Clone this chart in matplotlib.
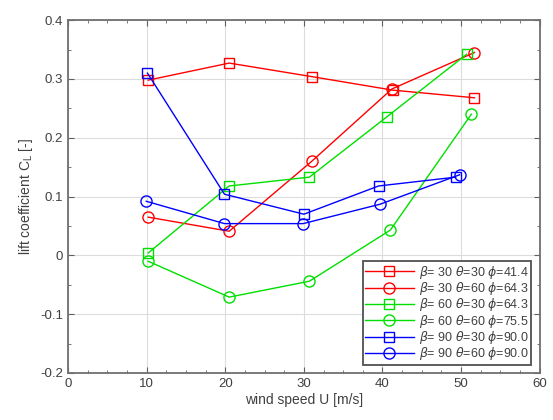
import matplotlib
matplotlib.use("Agg")
import matplotlib.pyplot as plt
from matplotlib.ticker import MultipleLocator, FuncFormatter

plt.rcParams['font.family'] = ['Liberation Sans', 'DejaVu Sans']
plt.rcParams['mathtext.fontset'] = 'dejavusans'
plt.rcParams['axes.unicode_minus'] = False

# wind speed / lift coefficient per configuration
u_b30t30 = [10.2, 20.5, 31.0, 41.3, 51.7]
cl_b30t30 = [0.298, 0.327, 0.304, 0.281, 0.268]
u_b30t60 = [10.2, 20.5, 31.0, 41.2, 51.7]
cl_b30t60 = [0.065, 0.041, 0.160, 0.283, 0.345]
u_b60t30 = [10.2, 20.5, 30.7, 40.6, 50.7]
cl_b60t30 = [0.004, 0.118, 0.133, 0.236, 0.342]
u_b60t60 = [10.2, 20.5, 30.7, 41.0, 51.3]
cl_b60t60 = [-0.010, -0.071, -0.044, 0.043, 0.240]
u_b90t30 = [10.1, 19.9, 30.0, 39.5, 49.3]
cl_b90t30 = [0.310, 0.104, 0.070, 0.118, 0.133]
u_b90t60 = [9.95, 19.9, 29.9, 39.7, 49.8]
cl_b90t60 = [0.092, 0.054, 0.054, 0.087, 0.137]

labels = [r'$\beta$= 30 $\theta$=30 $\phi$=41.4',
          r'$\beta$= 30 $\theta$=60 $\phi$=64.3',
          r'$\beta$= 60 $\theta$=30 $\phi$=64.3',
          r'$\beta$= 60 $\theta$=60 $\phi$=75.5',
          r'$\beta$= 90 $\theta$=30 $\phi$=90.0',
          r'$\beta$= 90 $\theta$=60 $\phi$=90.0']

series = [(u_b30t30, cl_b30t30, '#ff0000', 's'),
          (u_b30t60, cl_b30t60, '#ff0000', 'o'),
          (u_b60t30, cl_b60t30, '#00e000', 's'),
          (u_b60t60, cl_b60t60, '#00e000', 'o'),
          (u_b90t30, cl_b90t30, '#0000ff', 's'),
          (u_b90t60, cl_b90t60, '#0000ff', 'o')]

txt = '#404040'

fig = plt.figure(figsize=(5.53, 4.20), dpi=100)
ax = fig.add_axes([0.123, 0.112, 0.853, 0.840])

for (u, cl, c, m), lab in zip(series, labels):
    ax.plot(u, cl, color=c, marker=m, markersize=6.5 if m == 's' else 8,
            markerfacecolor='none', markeredgecolor=c, linewidth=1, label=lab)

ax.set_xlim(0, 60)
ax.set_ylim(-0.2, 0.4)
ax.xaxis.set_major_locator(MultipleLocator(10))
ax.yaxis.set_major_locator(MultipleLocator(0.1))
ax.xaxis.set_minor_locator(MultipleLocator(2.5))
ax.yaxis.set_minor_locator(MultipleLocator(0.05))
ax.yaxis.set_major_formatter(FuncFormatter(lambda v, p: '0' if abs(v) < 1e-9 else '%g' % round(v, 2)))
ax.tick_params(which='both', direction='in', top=True, right=True,
               color='#606060', labelcolor=txt, labelsize=9.5)
ax.tick_params(which='major', length=4)
ax.tick_params(which='minor', length=2)
ax.grid(True, which='major', color='#dcdcdc', linewidth=0.8)
for s in ax.spines.values():
    s.set_color('#707070')
    s.set_linewidth(1.3)

ax.set_xlabel('wind speed U [m/s]', fontsize=10, color=txt, labelpad=2)
ax.set_ylabel(r'lift coefficient C$_{\mathregular{L}}$ [-]', fontsize=10,
              color=txt)

leg = ax.legend(loc='lower right', bbox_to_anchor=(0.99, 0.012), fontsize=9,
                fancybox=False, framealpha=1, edgecolor='#505050',
                handlelength=3.9, borderpad=0.2, labelspacing=-0.05,
                handletextpad=0.4, borderaxespad=0.3)
leg.get_frame().set_linewidth(1.3)
for t in leg.get_texts():
    t.set_color(txt)

fig.savefig('out.png', dpi=100)
